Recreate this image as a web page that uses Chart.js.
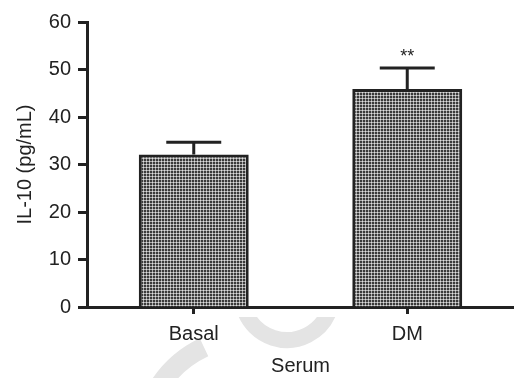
<!DOCTYPE html>
<html>
<head>
<meta charset="utf-8">
<script src="https://cdn.jsdelivr.net/npm/chart.js@4.4.1/dist/chart.umd.min.js"></script>
<style>
  html, body { margin: 0; padding: 0; background: #fff; }
  #wrap { width: 514px; height: 378px; position: relative; }
</style>
</head>
<body>
<div id="wrap"><canvas id="myChart"></canvas></div>
<script>
'use strict';

// ******* DATA *******
let categories = ['Basal', 'DM'];
let il10Means = [32.1, 45.9];
let il10Errors = [2.6, 4.4];
let sigMarks = ['', '**'];
let yTicks = [0, 10, 20, 30, 40, 50, 60];

let ink = '#222222';
let fontFamily = '"Liberation Sans", Arial, Helvetica, sans-serif';

// ******* FILL PATTERN (checkered gray) *******
function makePattern() {
  let tile = document.createElement('canvas');
  tile.width = 3;
  tile.height = 3;
  let tctx = tile.getContext('2d');
  tctx.fillStyle = '#dedede';
  tctx.fillRect(0, 0, 3, 3);
  tctx.fillStyle = '#a8a8a8';
  tctx.fillRect(0, 2, 2, 1);
  tctx.fillRect(2, 0, 1, 2);
  tctx.fillStyle = '#3a3a3a';
  tctx.fillRect(0, 0, 2, 2);
  return tctx.createPattern(tile, 'repeat');
}

// ******* PLUGINS *******
let watermark = {
  id: 'watermark',
  beforeDraw(chart) {
    let ctx = chart.ctx;
    ctx.save();
    ctx.beginPath();
    ctx.rect(0, 317, chart.width, chart.height - 317);
    ctx.clip();
    ctx.strokeStyle = '#e4e4e4';
    ctx.lineWidth = 16;
    ctx.beginPath();
    ctx.arc(287, 295, 45, 0.1 * Math.PI, 0.9 * Math.PI);
    ctx.stroke();
    ctx.lineWidth = 20;
    ctx.beginPath();
    ctx.arc(250, 445, 108, 1.17 * Math.PI, 1.36 * Math.PI);
    ctx.stroke();
    ctx.restore();
  }
};

let errorBars = {
  id: 'errorBars',
  afterDatasetsDraw(chart) {
    let ctx = chart.ctx;
    let yScale = chart.scales.y;
    let meta = chart.getDatasetMeta(0);
    ctx.save();
    ctx.strokeStyle = ink;
    ctx.lineWidth = 3;
    ctx.lineCap = 'butt';
    for (let i = 0; i < il10Means.length; i++) {
      let bar = meta.data[i];
      let yBase = yScale.getPixelForValue(il10Means[i]);
      let yTop = yScale.getPixelForValue(il10Means[i] + il10Errors[i]);
      let half = bar.width / 4;
      ctx.beginPath();
      ctx.moveTo(bar.x, yBase);
      ctx.lineTo(bar.x, yTop);
      ctx.moveTo(bar.x - half, yTop);
      ctx.lineTo(bar.x + half, yTop);
      ctx.stroke();
      if (sigMarks[i]) {
        ctx.fillStyle = ink;
        ctx.font = '18px ' + fontFamily;
        ctx.textAlign = 'center';
        ctx.textBaseline = 'middle';
        ctx.fillText(sigMarks[i], bar.x, yTop - 11);
      }
    }
    ctx.restore();
  }
};

// ******* CHART *******
let canvasElem = document.getElementById('myChart').getContext('2d');

let myChartObj = {
  type: 'bar',
  data: {
    labels: categories,
    datasets: [{
      data: il10Means,
      backgroundColor: makePattern(),
      borderColor: ink,
      borderWidth: 3,
      borderSkipped: 'bottom',
      categoryPercentage: 1,
      barPercentage: 0.515
    }]
  },
  options: {
    responsive: true,
    maintainAspectRatio: false,
    animation: false,
    layout: { padding: { top: 22, right: 0, bottom: 0, left: 0 } },
    plugins: {
      legend: { display: false },
      tooltip: { enabled: false }
    },
    scales: {
      x: {
        afterFit(scale) { scale.height = 71; },
        grid: {
          offset: false,
          drawOnChartArea: false,
          drawTicks: true,
          tickLength: 7,
          tickWidth: 3,
          tickColor: ink
        },
        border: { display: true, color: ink, width: 3 },
        ticks: {
          color: ink,
          padding: 8,
          font: { family: fontFamily, size: 20 }
        },
        title: {
          display: true,
          text: 'Serum',
          color: ink,
          padding: { top: 0, bottom: 0 },
          font: { family: fontFamily, size: 20 }
        }
      },
      y: {
        min: 0,
        max: 60,
        afterFit(scale) { scale.width = 87; },
        afterBuildTicks(scale) {
          scale.ticks = yTicks.map(v => ({ value: v }));
        },
        grid: {
          drawOnChartArea: false,
          drawTicks: true,
          tickLength: 9,
          tickWidth: 3,
          tickColor: ink
        },
        border: { display: true, color: ink, width: 3 },
        ticks: {
          color: ink,
          padding: 7,
          font: { family: fontFamily, size: 20 }
        },
        title: {
          display: true,
          text: 'IL-10 (pg/mL)',
          color: ink,
          padding: { top: 13, bottom: 0 },
          font: { family: fontFamily, size: 20 }
        }
      }
    }
  },
  plugins: [watermark, errorBars]
};

new Chart(canvasElem, myChartObj);
</script>
</body>
</html>
